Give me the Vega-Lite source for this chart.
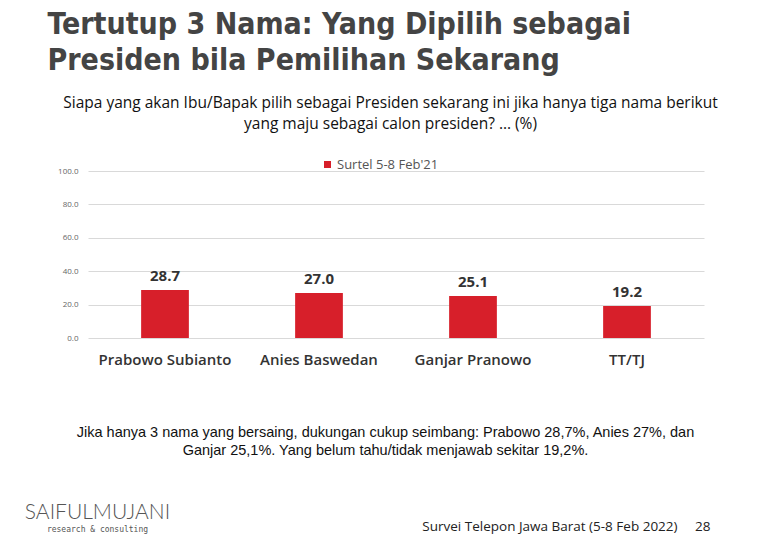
{
  "$schema": "https://vega.github.io/schema/vega-lite/v6.json",
  "autosize": "none",
  "width": 616,
  "height": 167,
  "padding": {"left": 88, "top": 171, "right": 64, "bottom": 200},
  "background": "white",
  "config": {"view": {"stroke": null}},
  "title": {
    "text": "SAIFULMUJANI",
    "subtitle": "research & consulting",
    "orient": "bottom",
    "anchor": "start",
    "frame": "group",
    "align": "center",
    "dx": 9.5,
    "dy": -35,
    "font": "Lato",
    "fontWeight": 300,
    "fontSize": 21,
    "color": "#555555",
    "subtitleFont": "DejaVu Sans Mono",
    "subtitleFontSize": 8,
    "subtitleColor": "#555555",
    "subtitlePadding": 3
  },
  "data": {
    "values": [
      {"name": "Prabowo Subianto", "value": 28.7, "series": "Surtel 5-8 Feb'21"},
      {"name": "Anies Baswedan", "value": 27.0, "series": "Surtel 5-8 Feb'21"},
      {"name": "Ganjar Pranowo", "value": 25.1, "series": "Surtel 5-8 Feb'21"},
      {"name": "TT/TJ", "value": 19.2, "series": "Surtel 5-8 Feb'21"}
    ]
  },
  "resolve": {"axis": {"x": "independent", "y": "independent"}},
  "layer": [
    {
      "mark": {"type": "bar"},
      "encoding": {
        "x": {
          "field": "name", "type": "nominal", "sort": null,
          "scale": {"paddingInner": 0.69, "paddingOuter": 0.345},
          "axis": {
            "orient": "bottom",
            "labelAngle": 0,
            "labelFont": "Open Sans",
            "labelFontSize": 15,
            "labelFontWeight": 600,
            "labelColor": "#333333",
            "labelPadding": 14,
            "ticks": false,
            "domain": false,
            "title": ["Jika hanya 3 nama yang bersaing, dukungan cukup seimbang: Prabowo 28,7%, Anies 27%, dan", "Ganjar 25,1%. Yang belum tahu/tidak menjawab sekitar 19,2%."],
            "titleFont": "Liberation Sans",
            "titleFontSize": 14.5,
            "titleFontWeight": "normal",
            "titleColor": "#111111",
            "titleLineHeight": 18,
            "titleAlign": "center",
            "titleBaseline": "top",
            "titleX": 297,
            "titleY": 87
          }
        },
        "y": {
          "field": "value", "type": "quantitative",
          "scale": {"domain": [0, 100], "nice": false},
          "axis": {
            "orient": "left",
            "values": [0, 20, 40, 60, 80, 100],
            "format": ".1f",
            "labelFont": "Open Sans",
            "labelFontSize": 8,
            "labelColor": "#666666",
            "labelPadding": 10,
            "grid": true,
            "gridColor": "#d9d9d9",
            "gridWidth": 1,
            "ticks": false,
            "domain": false,
            "title": ["Siapa yang akan Ibu/Bapak pilih sebagai Presiden sekarang ini jika hanya tiga nama berikut", "yang maju sebagai calon presiden? … (%)"],
            "titleAngle": 0,
            "titleFont": "Open Sans",
            "titleFontSize": 15.5,
            "titleFontWeight": "normal",
            "titleColor": "#111111",
            "titleLineHeight": 21,
            "titleAlign": "center",
            "titleBaseline": "top",
            "titleX": 302,
            "titleY": -76
          }
        },
        "color": {
          "field": "series", "type": "nominal",
          "scale": {"range": ["#d71f2a"]},
          "legend": {
            "orient": "none",
            "legendX": 233,
            "legendY": -13,
            "title": null,
            "padding": 0,
            "symbolType": "square",
            "symbolSize": 49,
            "symbolStrokeWidth": 0,
            "labelFont": "Open Sans",
            "labelFontSize": 13,
            "labelColor": "#555555",
            "labelOffset": 3
          }
        }
      }
    },
    {
      "mark": {"type": "text", "baseline": "bottom", "dy": -6, "font": "Open Sans", "fontSize": 15, "fontWeight": "bold", "color": "#333333"},
      "encoding": {
        "x": {
          "field": "name", "type": "nominal", "sort": null,
          "axis": {
            "orient": "top",
            "labels": false,
            "ticks": false,
            "domain": false,
            "title": ["Tertutup 3 Nama: Yang Dipilih sebagai", "Presiden bila Pemilihan Sekarang"],
            "titleFont": "DejaVu Sans Condensed",
            "titleFontSize": 30,
            "titleFontWeight": "bold",
            "titleColor": "#444444",
            "titleLineHeight": 36,
            "titleAlign": "left",
            "titleBaseline": "top",
            "titleX": -41,
            "titleY": -162
          }
        },
        "y": {
          "field": "value", "type": "quantitative",
          "axis": {
            "orient": "right",
            "labels": false,
            "ticks": false,
            "domain": false,
            "grid": false,
            "title": "Survei Telepon Jawa Barat (5-8 Feb 2022)\u00a0\u00a0\u00a0\u00a0 28",
            "titleAngle": 0,
            "titleFont": "Open Sans",
            "titleFontSize": 13.5,
            "titleFontWeight": "normal",
            "titleColor": "#222222",
            "titleAlign": "right",
            "titleBaseline": "alphabetic",
            "titleX": 6,
            "titleY": 359
          }
        },
        "text": {"field": "value", "type": "quantitative", "format": ".1f"}
      }
    }
  ]
}
